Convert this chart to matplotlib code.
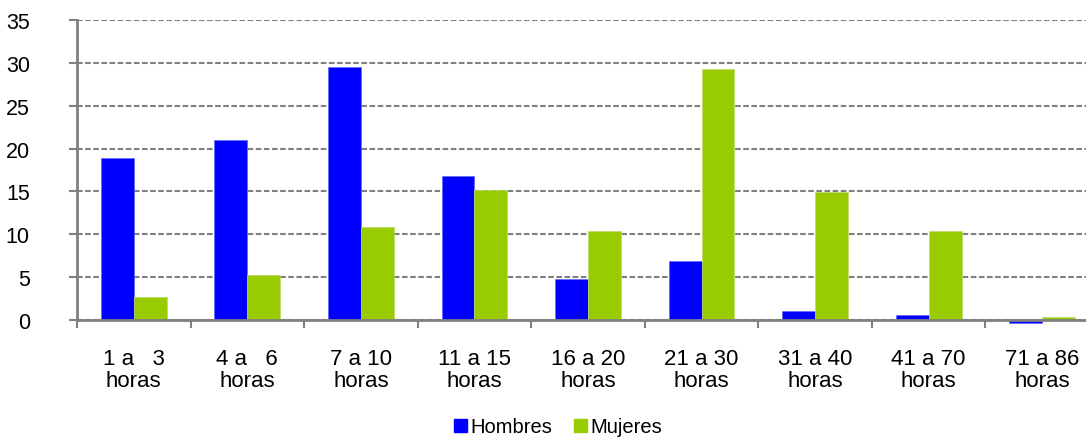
import numpy as np
import matplotlib.pyplot as plt
from matplotlib.patches import Patch

categorias = ['1 a   3\nhoras', '4 a   6\nhoras', '7 a 10\nhoras', '11 a 15\nhoras',
              '16 a 20\nhoras', '21 a 30\nhoras', '31 a 40\nhoras', '41 a 70\nhoras',
              '71 a 86\nhoras']
hombres = [18.9, 21.0, 29.5, 16.8, 4.8, 6.9, 1.0, 0.55, -0.3]
mujeres = [2.65, 5.25, 10.85, 15.2, 10.4, 29.3, 14.9, 10.4, 0.3]

azul = '#0000FF'
verde = '#99CC00'
gris = '#808080'

plt.rcParams['font.family'] = ['Liberation Sans', 'DejaVu Sans']

fig = plt.figure(figsize=(10.86, 4.39), dpi=100)
# axes extends a bit beyond the right edge, like the original crop
ax = fig.add_axes([77 / 1086, 1 - 321 / 439, 1022 / 1086, 300 / 439])

x = np.arange(len(categorias))
w = 0.29
ax.bar(x - w / 2, hombres, w, color=azul, edgecolor='#6666FF', linewidth=0.5,
       zorder=3, clip_on=False)
ax.bar(x + w / 2, mujeres, w, color=verde, edgecolor='#BBDD66', linewidth=0.5,
       zorder=3, clip_on=False)

ax.set_xlim(-0.5, len(categorias) - 0.5)
ax.set_ylim(0, 35)
ax.set_yticks(range(0, 36, 5))
ax.tick_params(axis='y', labelsize=15.5, length=6, width=1.5, color=gris, pad=28)
for lab in ax.get_yticklabels():
    lab.set_horizontalalignment('right')

ax.set_xticks(np.arange(len(categorias) + 1) - 0.5)
ax.set_xticklabels([])
ax.set_xticks(x, minor=True)
ax.set_xticklabels(categorias, minor=True, linespacing=1.1)
ax.tick_params(axis='x', which='major', length=6, width=1.5, color=gris)
ax.tick_params(axis='x', which='minor', length=0, pad=20, labelsize=16)

ax.yaxis.grid(True, linestyle=(0, (2.7, 1.2)), color=gris, linewidth=1.5, zorder=0)
for s in ['top', 'right']:
    ax.spines[s].set_visible(False)
for s in ['left', 'bottom']:
    ax.spines[s].set_color(gris)
    ax.spines[s].set_linewidth(2)
ax.spines['bottom'].set_zorder(4)

handles = [Patch(color=azul, label='Hombres'), Patch(color=verde, label='Mujeres')]
fig.legend(handles=handles, loc='center', bbox_to_anchor=(558 / 1086, 1 - 428 / 439),
           ncol=2, frameon=False, fontsize=14.5, handlelength=0.65, handleheight=0.65,
           handletextpad=0.15, columnspacing=1.1, borderpad=0)

fig.savefig('out.png', dpi=100)
